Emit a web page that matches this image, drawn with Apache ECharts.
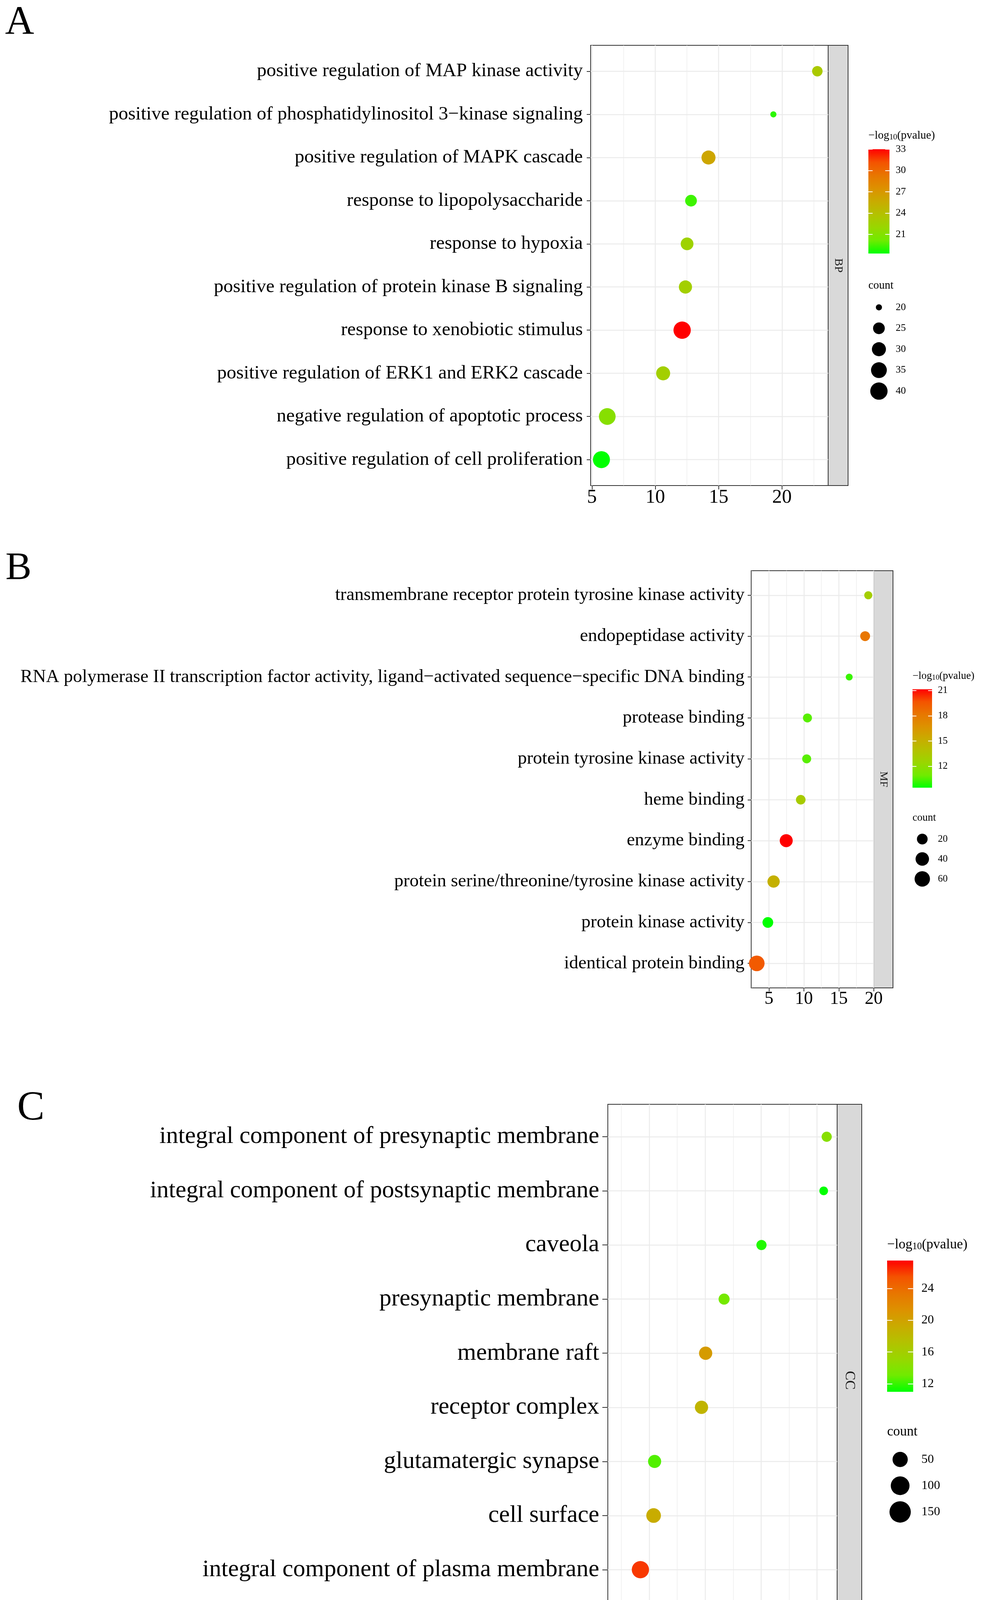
<!DOCTYPE html>
<html>
<head>
<meta charset="utf-8">
<script src="https://cdn.jsdelivr.net/npm/echarts@6.0.0/dist/echarts.min.js"></script>
<style>
  html, body { margin: 0; padding: 0; background: #fff; }
  #main { width: 2519px; height: 4328px; }
</style>
</head>
<body>
<div id="main"></div>
<script>
// ---- A: biological process (top to bottom as drawn)
const termsBP = [
  'positive regulation of MAP kinase activity',
  'positive regulation of phosphatidylinositol 3\u2212kinase signaling',
  'positive regulation of MAPK cascade',
  'response to lipopolysaccharide',
  'response to hypoxia',
  'positive regulation of protein kinase B signaling',
  'response to xenobiotic stimulus',
  'positive regulation of ERK1 and ERK2 cascade',
  'negative regulation of apoptotic process',
  'positive regulation of cell proliferation'
];
const xBP = [22.79, 19.32, 14.20, 12.82, 12.51, 12.38, 12.12, 10.62, 6.21, 5.75];
const countBP = [23, 20, 30, 25, 27, 28, 40, 30, 38, 39];
const logpBP = [23.2, 19.0, 26.0, 19.3, 22.4, 22.7, 33.0, 22.7, 21.2, 18.3];
const colorTicksBP = [21, 24, 27, 30, 33];
const sizeTicksBP = [20, 25, 30, 35, 40];

// ---- B: molecular function
const termsMF = [
  'transmembrane receptor protein tyrosine kinase activity',
  'endopeptidase activity',
  'RNA polymerase II transcription factor activity, ligand\u2212activated sequence\u2212specific DNA binding',
  'protease binding',
  'protein tyrosine kinase activity',
  'heme binding',
  'enzyme binding',
  'protein serine/threonine/tyrosine kinase activity',
  'protein kinase activity',
  'identical protein binding'
];
const xMF = [19.22, 18.77, 16.49, 10.51, 10.40, 9.55, 7.47, 5.66, 4.84, 3.25];
const countMF = [11, 16, 10, 13, 13, 15, 36, 30, 20, 63];
const logpMF = [13.0, 18.2, 10.2, 10.6, 10.6, 13.2, 21.15, 15.0, 9.45, 19.4];
const colorTicksMF = [12, 15, 18, 21];
const sizeTicksMF = [20, 40, 60];

// ---- C: cellular component
const termsCC = [
  'integral component of presynaptic membrane',
  'integral component of postsynaptic membrane',
  'caveola',
  'presynaptic membrane',
  'membrane raft',
  'receptor complex',
  'glutamatergic synapse',
  'cell surface',
  'integral component of plasma membrane',
  'plasma membrane'
];
const xCC = [20.86, 20.59, 15.03, 11.69, 10.04, 9.67, 5.48, 5.39, 4.21, 2.23];
const countCC = [15, 13, 15, 18, 31, 31, 30, 44, 76, 153];
const logpCC = [14.3, 11.0, 11.6, 13.3, 20.5, 18.4, 12.5, 19.2, 26.1, 27.5];
const colorTicksCC = [12, 16, 20, 24];
const sizeTicksCC = [50, 100, 150];

const xTicks = [5, 10, 15, 20];

const FONT = "'Liberation Serif', 'Times New Roman', serif";
// green -> red, interpolated in Lab like ggplot's gradient
const STOPS = ['#00FF00', '#70EB00', '#98D700', '#B3C200', '#C9AB00', '#DD9100', '#E87600', '#F45300', '#FF0000'];

const option = {
  animation: false,
  backgroundColor: '#fff',
  textStyle: { fontFamily: FONT },
  grid: [], xAxis: [], yAxis: [], series: [], visualMap: [], graphic: []
};

function addPanel(terms, xs, counts, logp, colorTicks, sizeTicks, strip, letter, L) {
  const [gl, gt, gw, gh] = L.grid;
  const xLo = Math.min(...xs), xHi = Math.max(...xs), xr = xHi - xLo;
  const xMin = xLo - 0.05 * xr, xMax = xHi + 0.05 * xr;
  const pMin = Math.min(...logp), pMax = Math.max(...logp);
  const cMin = Math.min(...counts), cMax = Math.max(...counts);
  const sizeOf = c => L.dot[0] + (L.dot[1] - L.dot[0]) * Math.sqrt(Math.max(0, (c - cMin) / (cMax - cMin)));
  const rows = terms.map((t, i) => i);
  const minor = xTicks.map(t => t - 2.5).concat([xTicks[xTicks.length - 1] + 2.5])
    .filter(v => v > xMin && v < xMax);

  // main panel
  let g = option.grid.length;
  option.grid.push({ left: gl, top: gt, width: gw, height: gh, show: true,
    backgroundColor: '#fff', borderColor: '#333', borderWidth: 2 });
  const xi = option.xAxis.length;
  option.xAxis.push({
    type: 'value', gridIndex: g, min: xMin, max: xMax,
    axisLine: { show: false, onZero: false },
    axisTick: { show: true, length: L.tickLen, customValues: xTicks, lineStyle: { color: '#333', width: 2 } },
    axisLabel: { customValues: xTicks, margin: L.xMargin, fontSize: L.tickFont, color: '#000', fontFamily: FONT },
    splitLine: { show: true, lineStyle: { color: '#EBEBEB', width: 2.5 } }
  });
  option.xAxis.push({
    type: 'value', gridIndex: g, min: xMin, max: xMax,
    axisLine: { show: false, onZero: false },
    axisTick: { show: false, customValues: minor },
    axisLabel: { show: false, customValues: minor },
    splitLine: { show: true, lineStyle: { color: '#EBEBEB', width: 1.3 } }
  });
  const yi = option.yAxis.length;
  option.yAxis.push({
    type: 'value', gridIndex: g, min: -0.6, max: terms.length - 1 + 0.6, inverse: true,
    axisLine: { show: false, onZero: false },
    axisTick: { show: true, length: L.tickLen, customValues: rows, lineStyle: { color: '#333', width: 2 } },
    axisLabel: { customValues: rows, formatter: v => terms[v], margin: L.yMargin,
      fontSize: L.font, color: '#000', fontFamily: FONT },
    splitLine: { show: true, lineStyle: { color: '#EBEBEB', width: 2.5 } }
  });
  option.series.push({
    type: 'scatter', xAxisIndex: xi, yAxisIndex: yi, z: 3, silent: true,
    data: terms.map((t, i) => [xs[i], i, counts[i], logp[i]]),
    symbolSize: v => sizeOf(v[2]),
    itemStyle: { opacity: 1 }
  });
  option.visualMap.push({
    type: 'continuous', show: false, seriesIndex: option.series.length - 1,
    dimension: 3, min: pMin, max: pMax, inRange: { color: STOPS }
  });

  // facet strip
  g = option.grid.length;
  option.grid.push({ left: gl + gw, top: gt, width: L.stripW, height: gh, show: true,
    backgroundColor: '#D9D9D9', borderColor: '#333', borderWidth: 2 });
  option.xAxis.push({ type: 'value', gridIndex: g, show: false });
  option.yAxis.push({ type: 'value', gridIndex: g, show: false });

  // colour bar
  const [cl, ct, cw, ch] = L.cb;
  g = option.grid.length;
  option.grid.push({ left: cl, top: ct, width: cw, height: ch });
  const cxi = option.xAxis.length;
  option.xAxis.push({ type: 'category', gridIndex: g, data: ['bar'], show: false });
  const cyi = option.yAxis.length;
  const whiteTick = { show: true, inside: true, length: cw / 5, customValues: colorTicks,
    lineStyle: { color: '#fff', width: 2 } };
  option.yAxis.push({
    type: 'value', gridIndex: g, min: pMin, max: pMax, position: 'right', z: 5,
    axisLine: { show: false, onZero: false }, axisTick: whiteTick,
    axisLabel: { customValues: colorTicks, margin: L.cbMargin, fontSize: L.legFont, color: '#000', fontFamily: FONT },
    splitLine: { show: false }
  });
  option.yAxis.push({
    type: 'value', gridIndex: g, min: pMin, max: pMax, position: 'left', z: 5,
    axisLine: { show: false, onZero: false }, axisTick: whiteTick,
    axisLabel: { show: false, customValues: colorTicks }, splitLine: { show: false }
  });
  const stackId = 'cb' + g;
  option.series.push({
    type: 'bar', xAxisIndex: cxi, yAxisIndex: cyi, stack: stackId, barWidth: '100%', silent: true,
    data: [pMin], itemStyle: { color: 'rgba(0,0,0,0)' }
  });
  option.series.push({
    type: 'bar', xAxisIndex: cxi, yAxisIndex: cyi, stack: stackId, barWidth: '100%', silent: true,
    data: [pMax - pMin],
    itemStyle: { color: new echarts.graphic.LinearGradient(0, 1, 0, 0,
      STOPS.map((c, i) => ({ offset: i / (STOPS.length - 1), color: c }))) }
  });

  // size keys
  g = option.grid.length;
  option.grid.push({ left: cl, top: L.keys[0], width: cw, height: L.keys[1] * sizeTicks.length });
  const kxi = option.xAxis.length;
  option.xAxis.push({ type: 'value', gridIndex: g, min: -1, max: 1, show: false });
  const kyi = option.yAxis.length;
  option.yAxis.push({
    type: 'category', gridIndex: g, data: sizeTicks.map(String), inverse: true, position: 'right',
    axisLine: { show: false }, axisTick: { show: false }, splitLine: { show: false },
    axisLabel: { margin: L.cbMargin, fontSize: L.legFont, color: '#000', fontFamily: FONT }
  });
  option.series.push({
    type: 'scatter', xAxisIndex: kxi, yAxisIndex: kyi, silent: true,
    data: sizeTicks.map(v => [0, String(v), v]),
    symbolSize: v => sizeOf(v[2]),
    itemStyle: { color: '#000', opacity: 1 }
  });

  // texts
  option.graphic.push(
    { type: 'text', x: L.letter[0], y: L.letter[1],
      style: { text: letter, fontSize: L.letter[2], fontFamily: FONT, fill: '#000', align: 'left', verticalAlign: 'middle' } },
    { type: 'text', x: gl + gw + L.stripW / 2, y: gt + gh / 2, rotation: -Math.PI / 2,
      style: { text: strip, fontSize: L.stripFont, fontFamily: FONT, fill: '#1A1A1A', align: 'center', verticalAlign: 'middle' } },
    { type: 'text', x: L.title[0], y: L.title[1],
      style: { text: '\u2212log{s|10}(pvalue)', fontSize: L.title[2], fontFamily: FONT, fill: '#000',
        align: 'left', verticalAlign: 'middle',
        rich: { s: { fontSize: L.title[2] * 0.7, fontFamily: FONT, fill: '#000', verticalAlign: 'bottom' } } } },
    { type: 'text', x: L.title[0], y: L.countY,
      style: { text: 'count', fontSize: L.title[2], fontFamily: FONT, fill: '#000', align: 'left', verticalAlign: 'middle' } }
  );
}

addPanel(termsBP, xBP, countBP, logpBP, colorTicksBP, sizeTicksBP, 'BP', 'A', {
  letter: [13, 60, 103], grid: [1512, 116, 608, 1127], stripW: 51, stripFont: 30,
  font: 49, tickFont: 50, tickLen: 10, yMargin: 20, xMargin: 6,
  title: [2223, 347, 29], cb: [2223, 382, 54, 267], cbMargin: 16, legFont: 26,
  countY: 731, keys: [760, 53.6], dot: [15.7, 44.3]
});
addPanel(termsMF, xMF, countMF, logpMF, colorTicksMF, sizeTicksMF, 'MF', 'B', {
  letter: [14, 1456, 100], grid: [1923, 1461, 314, 1068], stripW: 49, stripFont: 28,
  font: 47, tickFont: 46, tickLen: 9, yMargin: 17, xMargin: 6,
  title: [2336, 1731, 27], cb: [2336, 1764.5, 50, 252], cbMargin: 15, legFont: 25,
  countY: 2094, keys: [2122.5, 51], dot: [17.7, 40]
});
addPanel(termsCC, xCC, countCC, logpCC, colorTicksCC, sizeTicksCC, 'CC', 'C', {
  letter: [44, 2838, 105], grid: [1556, 2827, 587, 1413], stripW: 63, stripFont: 36,
  font: 62, tickFont: 60, tickLen: 14, yMargin: 22, xMargin: 8,
  title: [2271, 3187, 35], cb: [2271, 3227, 66.7, 336], cbMargin: 21, legFont: 32,
  countY: 3666, keys: [3702.6, 67.2], dot: [22.1, 55]
});

const chart = echarts.init(document.getElementById('main'));
chart.setOption(option);
</script>
</body>
</html>
